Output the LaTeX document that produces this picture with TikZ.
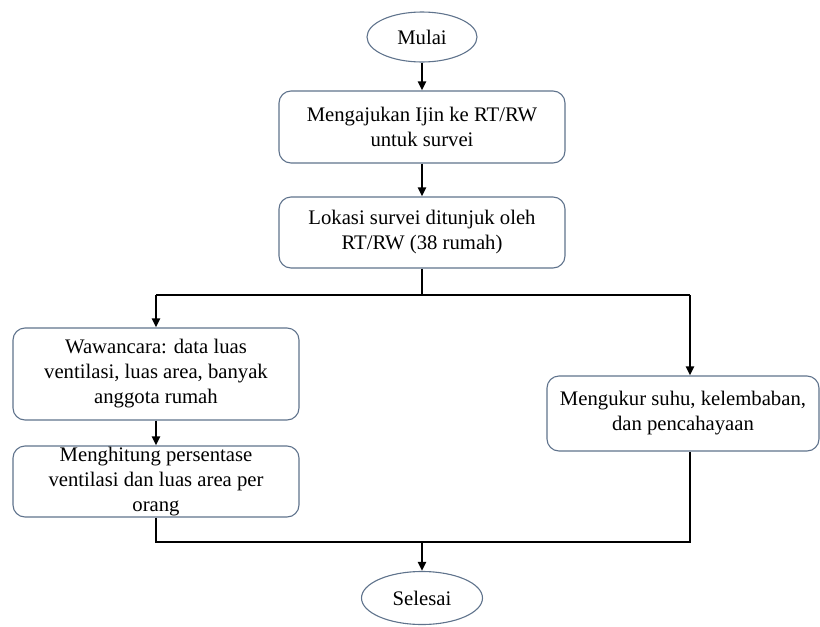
\documentclass[tikz,border=0pt]{standalone}
\usepackage{fontspec}
\setmainfont{Liberation Serif}
\usetikzlibrary{arrows.meta,shapes.geometric}
\definecolor{bordercol}{RGB}{95,115,140}
\tikzset{
  procbox/.style={draw=bordercol, line width=1.1pt, rounded corners=12pt, align=center, inner sep=0pt, font=\fontsize{20.7}{25}\selectfont},
  termnode/.style={draw=bordercol, line width=1.1pt, ellipse, inner sep=0pt, font=\fontsize{20.7}{25}\selectfont},
  conn/.style={line width=2.6pt, draw=black},
  arr/.style={conn, -{Triangle[length=9pt,width=8pt]}}
}
\begin{document}
\begin{tikzpicture}[x=1pt,y=-1pt]
\useasboundingbox (0,0) rectangle (820,627);
\node[termnode, minimum width=110pt, minimum height=50pt] (mulai) at (422,37) {Mulai};
\node[procbox, minimum width=286pt, minimum height=72pt] (b1) at (422,127) {Mengajukan Ijin ke RT/RW\\untuk survei};
\node[procbox, minimum width=286pt, minimum height=71pt] (b2) at (422,232.5) {Lokasi survei ditunjuk oleh\\RT/RW (38 rumah)};
\node[procbox, minimum width=286pt, minimum height=92pt] (b3) at (156,374) {Wawancara: data luas\\ventilasi, luas area, banyak\\anggota rumah};
\node[procbox, minimum width=286pt, minimum height=71pt] (b4) at (156,481.5) {Menghitung persentase\\ventilasi dan luas area per\\orang};
\node[procbox, minimum width=272pt, minimum height=75pt] (b5) at (683,413.5) {Mengukur suhu, kelembaban,\\dan pencahayaan};
\node[termnode, minimum width=121pt, minimum height=53pt] (selesai) at (422,598) {Selesai};

\coordinate (split) at (422,295);
\coordinate (splitL) at (156,295);
\coordinate (splitR) at (690,295);
\coordinate (join) at (422,542);
\coordinate (joinL) at (156,542);
\coordinate (joinR) at (690,542);

\draw[arr] (mulai.south) -- (b1.north);
\draw[arr] (b1.south) -- (b2.north);
\draw[conn] (b2.south) -- (split);
\draw[conn] (splitL) -- (splitR);
\draw[arr] (splitL) -- (b3.north);
\draw[arr] (splitR) -- (splitR |- b5.north);
\draw[arr] (b3.south) -- (b4.north);
\draw[conn] (b4.south) -- (joinL) -- (joinR) -- (joinR |- b5.south);
\draw[arr] (join) -- (selesai.north);
\end{tikzpicture}
\end{document}
